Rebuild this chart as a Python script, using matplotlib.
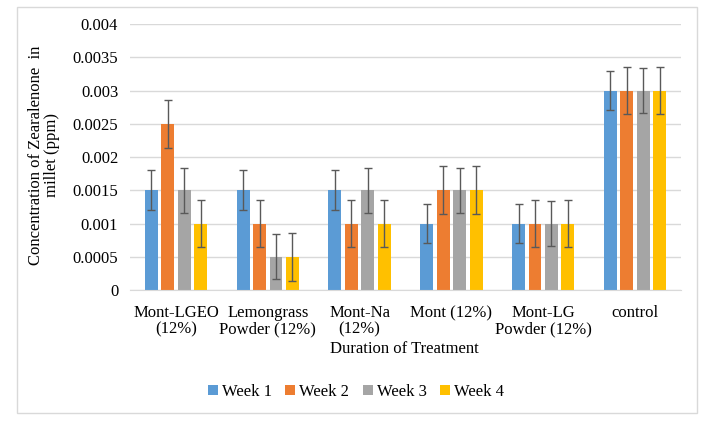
import matplotlib.pyplot as plt
import numpy as np
from matplotlib.patches import Rectangle

plt.rcParams['font.family'] = ['Liberation Serif', 'DejaVu Serif']

# categories and series
categorias = ["Mont-LGEO\n(12%)", "Lemongrass\nPowder (12%)", "Mont-Na\n(12%)",
              "Mont (12%)", "Mont-LG\nPowder (12%)", "control"]
semanas = ["Week 1", "Week 2", "Week 3", "Week 4"]
week1 = [0.0015, 0.0015, 0.0015, 0.001, 0.001, 0.003]
week2 = [0.0025, 0.001, 0.001, 0.0015, 0.001, 0.003]
week3 = [0.0015, 0.0005, 0.0015, 0.0015, 0.001, 0.003]
week4 = [0.001, 0.0005, 0.001, 0.0015, 0.001, 0.003]
err1 = [0.0003] * 6
err2 = [0.00036] * 6
err3 = [0.00034] * 6
err4 = [0.00036] * 6
yticks = [0, 0.0005, 0.001, 0.0015, 0.002, 0.0025, 0.003, 0.0035, 0.004]
ytick_labels = ["0", "0.0005", "0.001", "0.0015", "0.002", "0.0025", "0.003", "0.0035", "0.004"]

colores = ["#5B9BD5", "#ED7D31", "#A5A5A5", "#FFC000"]

W, H = 706, 423
fig = plt.figure(figsize=(W / 100, H / 100), dpi=100)
# borde del area del grafico
fig.patches.append(Rectangle((17 / W, 1 - 413 / H), (697 - 17) / W, (413 - 7) / H,
                             transform=fig.transFigure, fill=False,
                             edgecolor="#D9D9D9", linewidth=1))
ax = fig.add_axes([130 / W, 1 - 290 / H, (681 - 130) / W, (290 - 24) / H])

x = np.arange(len(categorias))
ancho = 0.14
paso = 0.179
series = [week1, week2, week3, week4]
errores = [err1, err2, err3, err4]
for i in range(4):
    pos = x + (i - 1.5) * paso
    ax.bar(pos, series[i], ancho, color=colores[i], label=semanas[i], zorder=2)
    ax.errorbar(pos, series[i], yerr=errores[i], fmt="none", ecolor="#595959",
                elinewidth=1, capsize=3, capthick=1, zorder=3)

ax.set_xlim(-0.5, len(categorias) - 0.5)
ax.set_ylim(0, 0.004)
ax.set_yticks(yticks)
ax.set_yticklabels(ytick_labels, fontsize=12)
ax.set_xticks(x)
ax.set_xticklabels(categorias, fontsize=12, linespacing=1.05)
ax.tick_params(axis="y", length=0, pad=8.5)
ax.tick_params(axis="x", length=0, pad=11)
ax.yaxis.grid(True, color="#D9D9D9", linewidth=1, zorder=0)
ax.set_axisbelow(True)
for lado in ["top", "right", "left"]:
    ax.spines[lado].set_visible(False)
ax.spines["bottom"].set_color("#D9D9D9")

fig.text(404 / W, 1 - 349 / H, "Duration of Treatment", fontsize=12,
         ha="center", va="center")
fig.text(44 / W, 1 - 155 / H, "Concentration of Zearalenone  in\nmillet (ppm)",
         fontsize=12, rotation=90, ha="center", va="center", linespacing=1.05)

fig.legend(loc="center", bbox_to_anchor=(356 / W, 1 - 392 / H), ncol=4, frameon=False,
           fontsize=12, handlelength=0.6, handleheight=0.6, handletextpad=0.25,
           columnspacing=0.8)

plt.savefig("out.png", dpi=100)
